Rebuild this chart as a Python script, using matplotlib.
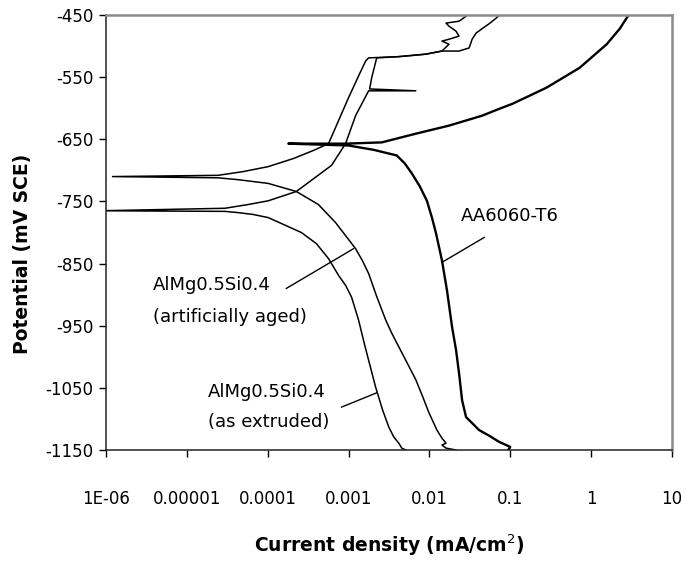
import numpy as np
import matplotlib
matplotlib.use('Agg')
import matplotlib.pyplot as plt
from matplotlib.ticker import FixedLocator, FixedFormatter, NullLocator

plt.rcParams['font.family'] = ['DejaVu Sans']

# current density given as log10(mA/cm2), potential in mV SCE
# AA6060-T6 : cathodic branch (bottom up), spike at Ecorr, anodic branch
t6_logi = [-1.025, -1.000, -1.137, -1.261, -1.385, -1.547, -1.596, -1.634, -1.671,
           -1.720, -1.783, -1.845, -1.919, -1.969, -2.031, -2.118, -2.217, -2.304,
           -2.404, -2.689, -3.000, -3.745, -3.037, -2.590, -2.168, -1.758, -1.348,
           -1.137, -0.975, -0.553, -0.143, 0.193, 0.354, 0.453]
t6_e = [-1150, -1145, -1137, -1127, -1118, -1097, -1070, -1026, -989,
        -952, -893, -845, -801, -776, -749, -726, -705, -689,
        -676, -667, -660, -657, -657, -655, -641, -628, -612,
        -601, -593, -567, -535, -497, -472, -452]

# AlMg0.5Si0.4 artificially aged
aged_logi = [-1.671, -1.795, -1.845, -1.795, -1.845, -1.907, -2.006, -2.081, -2.168,
             -2.279, -2.379, -2.466, -2.540, -2.652, -2.752, -2.826, -2.913, -3.037,
             -3.161, -3.373, -3.646, -3.994, -4.366, -4.615, -5.919, -4.615, -4.304,
             -3.994, -3.683, -3.435, -3.248, -3.124, -3.000, -2.876, -2.789, -2.752,
             -2.379, -2.043, -1.845, -1.758, -1.845, -1.758, -1.634, -1.671, -1.758,
             -1.795, -1.634, -1.547]
aged_e = [-1150, -1147, -1142, -1139, -1131, -1118, -1090, -1065, -1037,
          -1009, -984, -962, -941, -903, -866, -846, -826, -805,
          -784, -755, -734, -721, -715, -712, -710, -708, -702,
          -694, -681, -668, -657, -620, -583, -548, -524, -519,
          -517, -513, -508, -497, -492, -489, -484, -476, -468,
          -463, -460, -452]

# AlMg0.5Si0.4 as extruded
extr_logi = [-2.292, -2.342, -2.379, -2.441, -2.503, -2.578, -2.665, -2.727, -2.801,
             -2.876, -2.963, -3.037, -3.124, -3.248, -3.397, -3.584, -3.994, -4.180,
             -4.366, -4.528, -6.050, -4.528, -4.242, -3.994, -3.646, -3.211, -3.037,
             -2.913, -2.752, -2.168, -2.740, -2.714, -2.652, -2.379, -2.043, -1.845,
             -1.634, -1.509, -1.472, -1.422, -1.348, -1.261, -1.174, -1.137]
extr_e = [-1150, -1147, -1139, -1129, -1113, -1086, -1049, -1018, -981,
          -941, -904, -885, -869, -842, -818, -800, -776, -771,
          -768, -766, -765, -761, -755, -749, -734, -692, -657,
          -612, -572, -572, -569, -551, -519, -517, -513, -508,
          -508, -503, -489, -479, -472, -464, -455, -450]

xtick_vals = [1e-6, 1e-5, 1e-4, 1e-3, 1e-2, 1e-1, 1, 10]
xtick_labels = ['1E-06', '0.00001', '0.0001', '0.001', '0.01', '0.1', '1', '10']
ytick_vals = [-450, -550, -650, -750, -850, -950, -1050, -1150]

fig = plt.figure(figsize=(6.86, 5.62), dpi=100)
ax = fig.add_axes([0.1545, 0.1993, 0.8251, 0.7740])

ax.plot(10 ** np.array(t6_logi), t6_e, color='black', lw=1.7, solid_joinstyle='round')
ax.plot(10 ** np.array(aged_logi), aged_e, color='black', lw=1.1, solid_joinstyle='round')
ax.plot(10 ** np.array(extr_logi), extr_e, color='black', lw=1.1, solid_joinstyle='round')

# leader lines and labels
ax.plot([10 ** -1.845, 10 ** -1.323], [-848, -808], color='black', lw=1.0)
ax.plot([10 ** -3.770, 10 ** -2.938], [-890, -826], color='black', lw=1.0)
ax.plot([10 ** -3.087, 10 ** -2.652], [-1081, -1058], color='black', lw=1.0)

ax.text(10 ** -1.609, -773, 'AA6060-T6', fontsize=13, ha='left', va='center')
ax.text(10 ** -5.422, -885, 'AlMg0.5Si0.4', fontsize=13, ha='left', va='center')
ax.text(10 ** -5.422, -936, '(artificially aged)', fontsize=13, ha='left', va='center')
ax.text(10 ** -4.739, -1057, 'AlMg0.5Si0.4', fontsize=13, ha='left', va='center')
ax.text(10 ** -4.739, -1105, '(as extruded)', fontsize=13, ha='left', va='center')

ax.set_xscale('log')
ax.set_xlim(1e-6, 10)
ax.set_ylim(-1150, -450)
ax.xaxis.set_major_locator(FixedLocator(xtick_vals))
ax.xaxis.set_major_formatter(FixedFormatter(xtick_labels))
ax.xaxis.set_minor_locator(NullLocator())
ax.set_yticks(ytick_vals)
ax.set_yticklabels([str(v) for v in ytick_vals])

ax.tick_params(axis='x', direction='out', length=5, width=1, pad=24, labelsize=12)
ax.tick_params(axis='y', direction='out', length=5, width=1, pad=4, labelsize=12)

for s in ['left', 'bottom']:
    ax.spines[s].set_color('#222222')
    ax.spines[s].set_linewidth(1.1)
for s in ['top', 'right']:
    ax.spines[s].set_color('#8a8a8a')
    ax.spines[s].set_linewidth(1.8)

ax.set_xlabel('Current density (mA/cm$^2$)', fontsize=13.5, fontweight='bold')
ax.xaxis.set_label_coords(0.5, -0.19)
ax.set_ylabel('Potential (mV SCE)', fontsize=13.5, fontweight='bold')
ax.yaxis.set_label_coords(-0.13, 0.45)

fig.savefig('out.png', dpi=100, facecolor='white')
